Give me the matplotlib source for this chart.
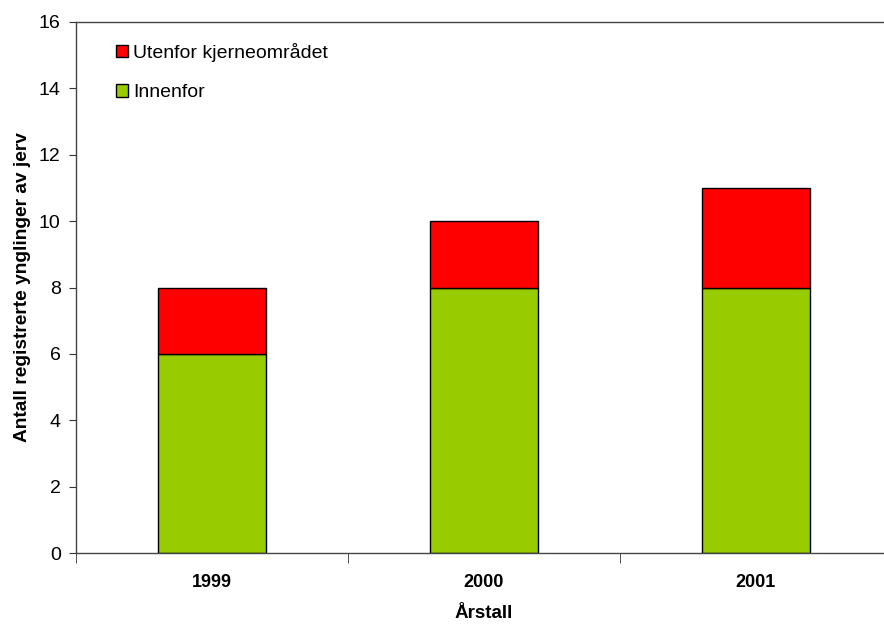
import matplotlib.pyplot as plt

plt.rcParams["font.family"] = ["Liberation Sans", "DejaVu Sans"]

years = ["1999", "2000", "2001"]
innenfor = [6, 8, 8]
utenfor = [2, 2, 3]

fig = plt.figure(figsize=(8.84, 6.28), dpi=100)
ax = fig.add_axes([76 / 884, 75 / 628, 816 / 884, 531 / 628])

x = range(len(years))
ax.bar(x, innenfor, width=0.4, color="#99cc00", edgecolor="black", linewidth=1, label="Innenfor")
ax.bar(x, utenfor, width=0.4, bottom=innenfor, color="#ff0000", edgecolor="black",
       linewidth=1, label="Utenfor kjerneområdet")

ax.set_xlim(-0.5, 2.5)
ax.set_ylim(0, 16)
ax.set_yticks(range(0, 17, 2))
ax.set_xticks(list(x))
ax.set_xticklabels(years, fontsize=13, fontweight="bold")
ax.set_xticks([-0.5, 0.5, 1.5, 2.5], minor=True)
ax.tick_params(axis="x", which="major", length=0, pad=15)
ax.tick_params(axis="x", which="minor", length=7, direction="out", color="#333333")
ax.tick_params(axis="y", length=5, direction="out", labelsize=14, pad=6, color="#333333")

ax.spines["right"].set_visible(False)
for s in ["left", "bottom", "top"]:
    ax.spines[s].set_color("#444444")
    ax.spines[s].set_linewidth(1)

ax.set_xlabel("Årstall", fontsize=13.5, fontweight="bold", labelpad=10)
ax.set_ylabel("Antall registrerte ynglinger av jerv", fontsize=13.8, fontweight="bold", labelpad=6)

handles, labels = ax.get_legend_handles_labels()
ax.legend(handles[::-1], labels[::-1], loc="upper left", bbox_to_anchor=(0.028, 0.994),
          frameon=False, fontsize=14, handlelength=0.6, handleheight=0.6,
          handletextpad=0.25, labelspacing=1.16)

fig.savefig("out.png", dpi=100)
